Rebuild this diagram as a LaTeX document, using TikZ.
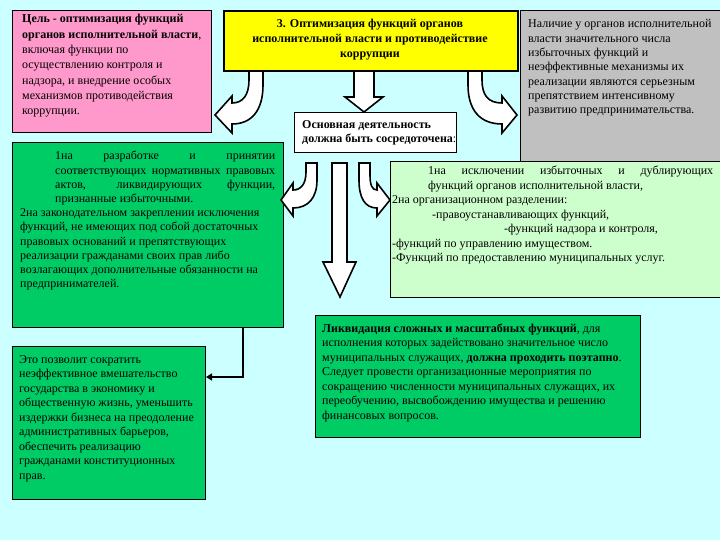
\documentclass[tikz,border=0pt]{standalone}
\usepackage{fontspec}
\setmainfont{Liberation Serif}
\usetikzlibrary{arrows.meta}
\definecolor{bgc}{HTML}{CCFFFF}
\definecolor{pinkc}{HTML}{FF99CC}
\definecolor{yelc}{HTML}{FFFF00}
\definecolor{grayc}{HTML}{C0C0C0}
\definecolor{greenc}{HTML}{00CC66}
\definecolor{lgreenc}{HTML}{CCFFCC}
\newcommand{\tbox}[3]{\parbox[t]{#1}{\fontsize{12}{#2}\selectfont\hyphenpenalty=10000 \tolerance=9999 \hbadness=10000 \parindent=0pt #3}}
\tikzset{
  box/.style={draw=black, line width=1pt, inner sep=0pt, anchor=north west},
  txt/.style={inner sep=0pt, anchor=base west},
  blockarrow/.style={fill=white, draw=black, line width=1.6pt, line join=miter},
  conn/.style={draw=black, line width=1.8pt, -{Triangle[length=6pt,width=7pt]}}
}
\begin{document}
\begin{tikzpicture}[x=1pt,y=-1pt]
\useasboundingbox (0,0) rectangle (720,540);
\fill[bgc] (0,0) rectangle (720,540);
% boxes
\node[box, fill=pinkc, minimum width=199pt, minimum height=122pt] (pink) at (12,10) {};
\node[box, fill=grayc, minimum width=210pt, minimum height=155pt] (gray) at (520,10) {};
\node[box, fill=white, minimum width=162pt, minimum height=40pt] (white) at (294,112) {};
\node[box, fill=greenc, minimum width=271pt, minimum height=185pt] (green1) at (12,142) {};
\node[box, fill=lgreenc, minimum width=340pt, minimum height=136pt] (lgreen) at (390,161) {};
\node[box, fill=greenc, minimum width=193pt, minimum height=153pt] (green2) at (12,346) {};
\node[box, fill=greenc, minimum width=325pt, minimum height=122pt] (green3) at (315,315) {};
% block arrows from the title box
\draw[blockarrow] (249,70) -- (249,80) .. controls (249,95) and (243,103) .. (232,103) -- (232,96) -- (215,115) -- (232,133) -- (232,124) .. controls (252,124) and (263,110) .. (263,85) -- (263,70) -- cycle;
\draw[blockarrow] (354,70) -- (354,97) -- (345,97) -- (364,112) -- (383,97) -- (374,97) -- (374,70) -- cycle;
\draw[blockarrow] (482,70) -- (482,80) .. controls (482,95) and (488,103) .. (502,103) -- (502,96) -- (517,115) -- (502,133) -- (502,124) .. controls (480,124) and (468,110) .. (468,85) -- (468,70) -- cycle;
\node[box, fill=yelc, line width=2pt, minimum width=294pt, minimum height=60pt] (title) at (223,10) {};
% block arrows from the white box
\draw[blockarrow] (306,163) -- (306,172) .. controls (306,184) and (301,190) .. (293,190) -- (293,183) -- (281,200) -- (293,216) -- (293,208) .. controls (308,208) and (317,198) .. (317,180) -- (317,163) -- cycle;
\draw[blockarrow] (332,163) -- (332,262) -- (323,262) -- (340,297) -- (356,262) -- (347,262) -- (347,163) -- cycle;
\draw[blockarrow] (370,163) -- (370,175) .. controls (370,185) and (372,190) .. (377,190) -- (377,183) -- (390,200) -- (377,216) -- (377,208) .. controls (365,208) and (359,198) .. (359,180) -- (359,163) -- cycle;
% connector
\coordinate (c1) at (0,377);
\coordinate (c2) at (243,0);
\draw[conn] (green1.south -| c2) |- (green2.east |- c1);
% texts
\node[txt] (tpink) at (22,23) {\tbox{190pt}{15.3pt}{\raggedright
\textbf{Цель - оптимизация функций}\\
\textbf{органов исполнительной власти},\\
включая функции по\\
осуществлению контроля и\\
надзора, и внедрение особых\\
механизмов противодействия\\
коррупции.}};
\node[inner sep=0pt, anchor=base] (ttitle) at (370,28) {\tbox{290pt}{15pt}{\centering\bfseries
3. Оптимизация функций органов\\
исполнительной власти и противодействие\\
коррупции}};
\node[txt] (tgray) at (528,28) {\tbox{190pt}{14.3pt}{\raggedright
Наличие у органов исполнительной\\
власти значительного числа\\
избыточных функций и\\
неэффективные механизмы их\\
реализации являются серьезным\\
препятствием интенсивному\\
развитию предпринимательства.}};
\node[txt] (twhite) at (302,129) {\tbox{155pt}{14pt}{\raggedright
\textbf{Основная деятельность}\\
\textbf{должна быть сосредоточена}:}};
\node[txt] (tgreen1) at (20,160) {\tbox{255pt}{14.2pt}{%
{\leftskip=35pt 1на разработке и принятии\linebreak
соответствующих нормативных правовых\linebreak
актов, ликвидирующих функции,\linebreak
признанные избыточными.\par}
2на законодательном закреплении исключения\\
функций, не имеющих под собой достаточных\\
правовых оснований и препятствующих\\
реализации гражданами своих прав либо\\
возлагающих дополнительные обязанности на\\
предпринимателей.}};
\node[txt] (tlgreen) at (392,175) {\tbox{321pt}{14.5pt}{%
{\leftskip=36pt 1на исключении избыточных и дублирующих\linebreak
функций органов исполнительной власти,\par}
2на организационном разделении:\\
\hspace*{40pt}-правоустанавливающих функций,\\
\hspace*{112pt}-функций надзора и контроля,\\
-функций по управлению имуществом.\\
-Функций по предоставлению муниципальных услуг.}};
\node[txt] (tgreen3) at (322,332) {\tbox{315pt}{14.5pt}{\raggedright
\textbf{Ликвидация сложных и масштабных функций}, для\\
исполнения которых задействовано значительное число\\
муниципальных служащих, \textbf{должна проходить поэтапно}.\\
Следует провести организационные мероприятия по\\
сокращению численности муниципальных служащих, их\\
переобучению, высвобождению имущества и решению\\
финансовых вопросов.}};
\node[txt] (tgreen2) at (19,363) {\tbox{185pt}{14.5pt}{\raggedright
Это позволит сократить\\
неэффективное вмешательство\\
государства в экономику и\\
общественную жизнь, уменьшить\\
издержки бизнеса на преодоление\\
административных барьеров,\\
обеспечить реализацию\\
гражданами конституционных\\
прав.}};
\end{tikzpicture}
\end{document}
